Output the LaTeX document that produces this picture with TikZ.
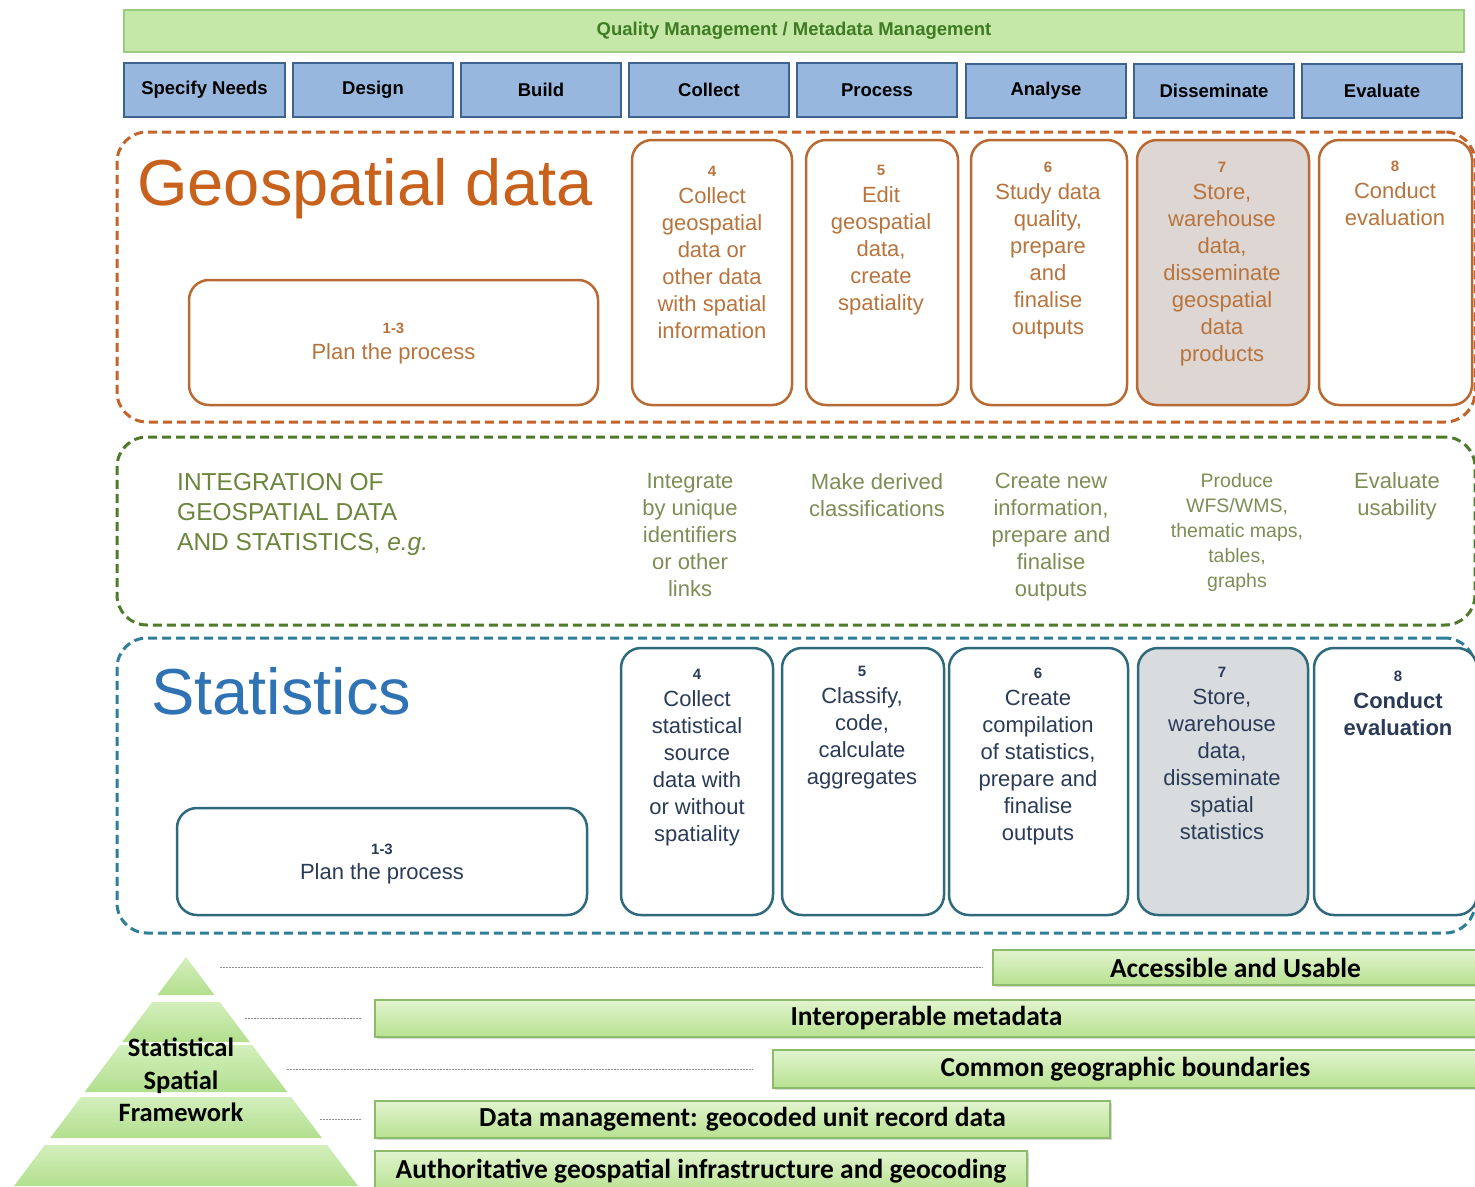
\documentclass[tikz,border=0pt]{standalone}
\usepackage{fontspec}
\setmainfont{Liberation Sans}
\newfontfamily\calibri{Carlito}
\usetikzlibrary{shadows}
\newcommand\fsz[2]{\fontsize{#1}{#2}\selectfont}
\newcommand\nm[1]{{\fsz{15}{27}\bfseries #1}}
\definecolor{qmfill}{HTML}{C5E8A8}
\definecolor{qmborder}{HTML}{9BCB7E}
\definecolor{qmtext}{HTML}{3E7B22}
\definecolor{phfill}{HTML}{97B7DE}
\definecolor{phborder}{HTML}{3F638F}
\definecolor{geodash}{HTML}{C4632A}
\definecolor{geotitle}{HTML}{C8611C}
\definecolor{geobox}{HTML}{B86A33}
\definecolor{geotext}{HTML}{B8743C}
\definecolor{geograyfill}{HTML}{DDD6D3}
\definecolor{intdash}{HTML}{4F7A2C}
\definecolor{inttitle}{HTML}{6B853C}
\definecolor{inttext}{HTML}{7C8E55}
\definecolor{statdash}{HTML}{2F7E98}
\definecolor{stattitle}{HTML}{2F73B5}
\definecolor{statbox}{HTML}{2E6A7C}
\definecolor{stattext}{HTML}{2B3B57}
\definecolor{statgrayfill}{HTML}{D9DCDE}
\definecolor{barlight}{HTML}{E2F4CF}
\definecolor{bardark}{HTML}{B7E190}
\definecolor{barborder}{HTML}{8DBB6C}
\definecolor{pyr}{HTML}{B2DF8E}
\definecolor{pyrlight}{HTML}{D3EFBC}
\definecolor{dotgray}{HTML}{8C8C8C}
\tikzset{
  qmbar/.style={draw=qmborder, fill=qmfill, line width=1.5pt, minimum width=1340pt, minimum height=42pt, inner sep=0pt, text=qmtext, font=\fsz{18.5}{21}\bfseries},
  phase/.style={draw=phborder, fill=phfill, line width=1.5pt, minimum width=160pt, minimum height=54pt, inner sep=0pt, font=\fsz{18.5}{21}\bfseries},
  zone/.style={draw, dash pattern=on 9pt off 5pt, line width=3pt, rounded corners=30pt, minimum width=1358pt, inner sep=0pt},
  card/.style={draw, line width=2.5pt, rounded corners=20pt, inner sep=0pt, fill=white},
  geocard/.style={card, draw=geobox, minimum height=265pt},
  statcard/.style={card, draw=statbox, minimum height=267pt},
  geotxt/.style={text=geotext, align=center, inner sep=0pt, anchor=north, font=\fsz{22}{27}},
  stattxt/.style={text=stattext, align=center, inner sep=0pt, anchor=north, font=\fsz{22}{27}},
  inttxt/.style={text=inttext, align=center, inner sep=0pt, anchor=north, font=\fsz{22}{27}},
  bar/.style={draw=barborder, line width=1.5pt, top color=barlight, bottom color=bardark, inner sep=0pt, font=\calibri\fsz{27.5}{31}\bfseries, drop shadow={shadow xshift=2pt, shadow yshift=-2pt, fill=black!30, opacity=0.5}},
  layer/.style={top color=pyrlight, bottom color=pyr, draw=none},
  dotline/.style={draw=dotgray, line width=1pt, dash pattern=on 1.5pt off 1.5pt, shorten >=9pt}
}
\begin{document}
\begin{tikzpicture}[x=1pt,y=-1pt]
\useasboundingbox (0,0) rectangle (1475,1186);
\fill[white] (0,0) rectangle (1475,1186);

% top bars
\node[qmbar] (qm) at (794,31) {Quality Management / Metadata Management};
\node[phase, minimum width=161pt] (ph1) at (204.5,90) {Specify Needs};
\node[phase] (ph2) at (373,90) {Design};
\node[phase] (ph3) at (541,90) {Build};
\node[phase] (ph4) at (709,90) {Collect};
\node[phase] (ph5) at (877,90) {Process};
\node[phase] (ph6) at (1046,91) {Analyse};
\node[phase] (ph7) at (1214,91) {Disseminate};
\node[phase] (ph8) at (1382,91) {Evaluate};

% zones
\node[zone, draw=geodash, minimum height=290pt] (geozone) at (796,277) {};
\node[zone, draw=intdash, minimum height=188pt] (intzone) at (796,531) {};
\node[zone, draw=statdash, minimum height=295pt] (statzone) at (796,785.5) {};

% geospatial
\node[anchor=base west, inner sep=0pt, text=geotitle, font=\fsz{65}{70}] (geotitlenode) at (137,205) {Geospatial data};
\node[geocard, minimum width=409pt, minimum height=125pt] (gplan) at (393.5,342.5) {};
\node[geocard, minimum width=160pt] (g4) at (712,272.5) {};
\node[geocard, minimum width=152pt] (g5) at (882,272.5) {};
\node[geocard, minimum width=156pt] (g6) at (1049,272.5) {};
\node[geocard, minimum width=172pt, fill=geograyfill] (g7) at (1223,272.5) {};
\node[geocard, minimum width=153pt] (g8) at (1395.5,272.5) {};
\node[geotxt, font=\fsz{22}{26}] (gplant) at (393.5,323) {\nm{1-3}\\Plan the process};
\node[geotxt] (g4t) at (712,166) {\nm{4}\\Collect\\geospatial\\data or\\other data\\with spatial\\information};
\node[geotxt] (g5t) at (881,165) {\nm{5}\\Edit\\geospatial\\data,\\create\\spatiality};
\node[geotxt] (g6t) at (1048,162) {\nm{6}\\Study data\\quality,\\prepare\\and\\finalise\\outputs};
\node[geotxt] (g7t) at (1222,162) {\nm{7}\\Store,\\warehouse\\data,\\disseminate\\geospatial\\data\\products};
\node[geotxt] (g8t) at (1395,161) {\nm{8}\\Conduct\\evaluation};

% integration
\node[anchor=north west, inner sep=0pt, align=left, text=inttitle, font=\fsz{24.5}{30}] (inttitlenode) at (177,473) {INTEGRATION OF\\GEOSPATIAL DATA\\AND STATISTICS, \textit{e.g.}};
\node[inttxt] (i4) at (690,473) {Integrate\\by unique\\identifiers\\or other\\links};
\node[inttxt] (i5) at (877,473) {Make derived\\classifications};
\node[inttxt] (i6) at (1051,473) {Create new\\information,\\prepare and\\finalise\\outputs};
\node[inttxt, font=\fsz{19.5}{25}] (i7) at (1237,473) {Produce\\WFS/WMS,\\thematic maps,\\tables,\\graphs};
\node[inttxt] (i8) at (1397,472) {Evaluate\\usability};

% statistics
\node[anchor=base west, inner sep=0pt, text=stattitle, font=\fsz{65}{70}] (stattitlenode) at (151,714) {Statistics};
\node[statcard, minimum width=410pt, minimum height=107pt] (splan) at (382,861.5) {};
\node[statcard, minimum width=152pt] (s4) at (697,781.5) {};
\node[statcard, minimum width=162pt] (s5) at (863,781.5) {};
\node[statcard, minimum width=179pt] (s6) at (1038.5,781.5) {};
\node[statcard, minimum width=170pt, fill=statgrayfill] (s7) at (1223,781.5) {};
\node[statcard, minimum width=163pt] (s8) at (1395.5,781.5) {};
\node[stattxt, font=\fsz{22}{25}] (splant) at (382,844) {\nm{1-3}\\Plan the process};
\node[stattxt] (s4t) at (697,669) {\nm{4}\\Collect\\statistical\\source\\data with\\or without\\spatiality};
\node[stattxt] (s5t) at (862,666) {\nm{5}\\Classify,\\code,\\calculate\\aggregates};
\node[stattxt] (s6t) at (1038,668) {\nm{6}\\Create\\compilation\\of statistics,\\prepare and\\finalise\\outputs};
\node[stattxt] (s7t) at (1222,667) {\nm{7}\\Store,\\warehouse\\data,\\disseminate\\spatial\\statistics};
\node[stattxt, font=\fsz{22}{27}\bfseries] (s8t) at (1398,671) {\nm{8}\\Conduct\\evaluation};

% pyramid
\path[layer] (186,957) -- (214.5,995) -- (157.5,995) -- cycle;
\path[layer] (152.2,1002) -- (219.8,1002) -- (249.8,1042) -- (122.2,1042) -- cycle;
\path[layer] (119.9,1045) -- (252.1,1045) -- (287.4,1092) -- (84.6,1092) -- cycle;
\path[layer] (80.9,1097) -- (291.1,1097) -- (321.9,1138) -- (50.1,1138) -- cycle;
\path[layer] (44.8,1145) -- (327.2,1145) -- (358,1186) -- (14,1186) -- cycle;
\node[align=center, inner sep=0pt, font=\calibri\fsz{26.5}{32.5}\bfseries] (pyrtext) at (181,1080) {Statistical\\Spatial\\Framework};

% bars
\node[bar, minimum width=485pt, minimum height=35pt] (acc) at (1235.5,967.5) {Accessible and Usable};
\node[bar, minimum width=1103pt, minimum height=37pt] (interop) at (926.5,1018.5) {Interoperable metadata};
\node[bar, minimum width=705pt, minimum height=38pt] (common) at (1125.5,1069) {Common geographic boundaries};
\node[bar, minimum width=735pt, minimum height=37pt] (dataman) at (742.5,1119.5) {Data management: geocoded unit record data};
\node[bar, minimum width=652pt, minimum height=41pt] (auth) at (701,1171.5) {Authoritative geospatial infrastructure and geocoding};

% dotted connectors
\coordinate (p1) at (220,967.5);
\coordinate (p2) at (245,1018.5);
\coordinate (p3) at (287,1069);
\coordinate (p4) at (320,1119.5);
\draw[dotline] (p1) -- (acc.west);
\draw[dotline, shorten >=13pt] (p2) -- (interop.west);
\draw[dotline, shorten >=20pt] (p3) -- (common.west);
\draw[dotline, shorten >=13pt] (p4) -- (dataman.west);
\end{tikzpicture}
\end{document}
